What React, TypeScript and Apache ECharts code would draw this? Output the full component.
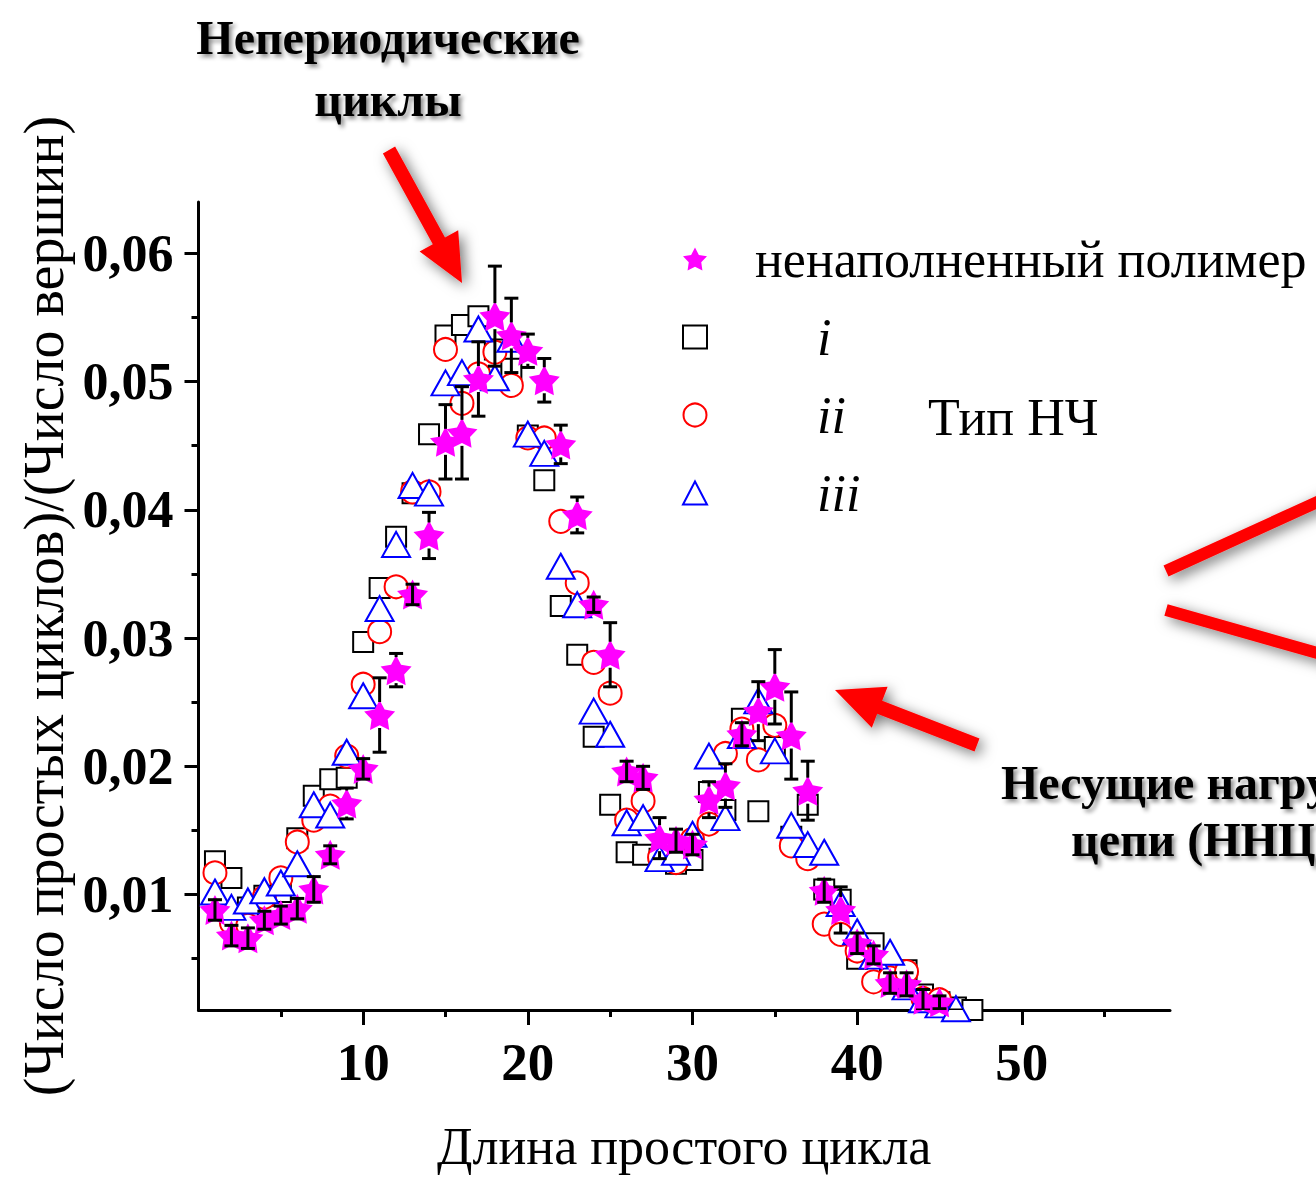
import { useEffect, useRef } from 'react';
import * as echarts from 'echarts';

// ---- data ----
const cycleLength = [
  1, 2, 3, 4, 5, 6, 7, 8, 9, 10, 11, 12, 13, 14, 15, 16, 17, 18, 19, 20,
  21, 22, 23, 24, 25, 26, 27, 28, 29, 30, 31, 32, 33, 34, 35, 36, 37, 38, 39, 40,
  41, 42, 43, 44, 45, 46, 47, 48, 49, 50, 51, 52, 53, 54, 55,
];

// ненаполненный полимер (stars) with error half-widths
const unfilledPolymer = [
  0.0088, 0.0068, 0.0066, 0.0080, 0.0084, 0.0089, 0.0104, 0.0131, 0.0171, 0.0198,
  0.0240, 0.0275, 0.0334, 0.0380, 0.0453, 0.0460, 0.0502, 0.0551, 0.0536, 0.0524,
  0.0501, 0.0451, 0.0396, 0.0326, 0.0287, 0.0196, 0.0191, 0.0144, 0.0142, 0.0139,
  0.0174, 0.0185, 0.0225, 0.0243, 0.0262, 0.0224, 0.0181, 0.0103, 0.0088, 0.0062,
  0.0053, 0.0031, 0.0030, 0.0018, 0.0016, 0.0007, 0.0004, 0.0002, 0.0002, 0.0002,
  0.0002, 0.0002, 0.0002, 0.0002, 0.0002,
];
const unfilledPolymerErr = [
  0.0008, 0.0008, 0.0008, 0.0007, 0.0007, 0.0008, 0.0010, 0.0007, 0.0012, 0.0008,
  0.0029, 0.0013, 0.0008, 0.0018, 0.0029, 0.0036, 0.0029, 0.0039, 0.0029, 0.0013,
  0.0017, 0.0015, 0.0014, 0.0006, 0.0025, 0.0008, 0.0009, 0.0016, 0.0009, 0.0008,
  0.0014, 0.0017, 0.0009, 0.0023, 0.0029, 0.0034, 0.0023, 0.0009, 0.0018, 0.0008,
  0.0007, 0.0008, 0.0009, 0.0008, 0.0005, 0.0003, 0.0002, 0, 0, 0,
  0, 0, 0, 0, 0,
];

// Тип НЧ i (squares)
const typeI = [
  0.0126, 0.0113, 0.0090, 0.0099, 0.0102, 0.0144, 0.0177, 0.0190, 0.0191, 0.0297,
  0.0339, 0.0379, 0.0413, 0.0459, 0.0536, 0.0544, 0.0551, 0.0525, 0.0510, 0.0458,
  0.0423, 0.0325, 0.0287, 0.0223, 0.0170, 0.0133, 0.0131, 0.0128, 0.0124, 0.0127,
  0.0180, 0.0166, 0.0237, 0.0165, 0.0215, 0.0145, 0.0170, 0.0104, 0.0096, 0.0050,
  0.0062, 0.0035, 0.0041, 0.0022, 0.0016, 0.0012, 0.0010, 0.0003,
];

// Тип НЧ ii (circles)
const typeII = [
  0.0117, 0.0078, 0.0076, 0.0098, 0.0113, 0.0141, 0.0158, 0.0169, 0.0208, 0.0264,
  0.0305, 0.0340, 0.0414, 0.0414, 0.0525, 0.0483, 0.0506, 0.0523, 0.0497, 0.0456,
  0.0456, 0.0391, 0.0343, 0.0281, 0.0257, 0.0158, 0.0173, 0.0129, 0.0125, 0.0143,
  0.0155, 0.0210, 0.0229, 0.0205, 0.0232, 0.0138, 0.0128, 0.0077, 0.0069, 0.0056,
  0.0032, 0.0035, 0.0040, 0.0019, 0.0018, 0.0009, 0.0005,
];

// Тип НЧ iii (triangles)
const typeIII = [
  0.0102, 0.0090, 0.0095, 0.0103, 0.0109, 0.0124, 0.0170, 0.0162, 0.0211, 0.0255,
  0.0323, 0.0373, 0.0419, 0.0413, 0.0499, 0.0507, 0.0541, 0.0503, 0.0533, 0.0459,
  0.0444, 0.0356, 0.0326, 0.0243, 0.0225, 0.0156, 0.0160, 0.0128, 0.0133, 0.0147,
  0.0208, 0.0160, 0.0224, 0.0251, 0.0212, 0.0154, 0.0139, 0.0133, 0.0093, 0.0071,
  0.0052, 0.0055, 0.0028, 0.0018, 0.0014, 0.0011, 0.0009,
];

const xMajorTicks = [10, 20, 30, 40, 50];
const xMinorTicks = [5, 15, 25, 35, 45, 55];
const yMajorTicks = [0.01, 0.02, 0.03, 0.04, 0.05, 0.06];
const yMinorTicks = [0.005, 0.015, 0.025, 0.035, 0.045, 0.055];

const NAME_STAR = 'ненаполненный полимер';
const NAME_I = 'i';
const NAME_II = 'ii';
const NAME_III = 'iii';

const FONT = '"Liberation Serif", "Times New Roman", serif';
const STAR =
  'path://M0,-10L3.06,-4.21L9.51,-3.09L4.95,1.61L5.88,8.09L0,5.2L-5.88,8.09L-4.95,1.61L-9.51,-3.09L-3.06,-4.21Z';

const pairs = (vals: number[]) => vals.map((v, i) => [cycleLength[i], v]);

const shadow = {
  shadowBlur: 14,
  shadowColor: 'rgba(0,0,0,0.55)',
  shadowOffsetX: 4,
  shadowOffsetY: 4,
};
const textShadow = {
  textShadowBlur: 4,
  textShadowColor: 'rgba(0,0,0,0.45)',
  textShadowOffsetX: 3,
  textShadowOffsetY: 3,
};

export default function App() {
  const ref = useRef<HTMLDivElement>(null);

  useEffect(() => {
    document.body.style.margin = '0';
    const chart = echarts.init(ref.current as HTMLDivElement, null, { renderer: 'svg' });

    const renderErr = (_params: any, api: any) => {
      const x = api.value(0);
      const y = api.value(1);
      const e = api.value(2);
      if (!(e > 0)) return null;
      const c = api.coord([x, y]);
      const t = api.coord([x, y + e]);
      const b = api.coord([x, y - e]);
      const hw = 7;
      const gap = 13;
      const style = { stroke: '#000', lineWidth: 3 };
      const children: any[] = [
        { type: 'line', shape: { x1: t[0] - hw, y1: t[1], x2: t[0] + hw, y2: t[1] }, style },
        { type: 'line', shape: { x1: b[0] - hw, y1: b[1], x2: b[0] + hw, y2: b[1] }, style },
      ];
      if (c[1] - t[1] > gap + 2) {
        children.push({ type: 'line', shape: { x1: t[0], y1: t[1], x2: c[0], y2: c[1] - gap }, style });
        children.push({ type: 'line', shape: { x1: b[0], y1: b[1], x2: c[0], y2: c[1] + gap }, style });
      } else {
        children.push({ type: 'line', shape: { x1: t[0], y1: t[1], x2: b[0], y2: b[1] }, style });
      }
      return { type: 'group', children };
    };

    const option: any = {
      animation: false,
      backgroundColor: '#fff',
      grid: { left: 198.5, top: 202, width: 971.5, height: 811, containLabel: false },
      xAxis: [
        {
          type: 'value',
          min: 0,
          max: 59,
          position: 'bottom',
          axisLine: { show: true, onZero: false, lineStyle: { color: '#000', width: 3 } },
          axisTick: { show: true, inside: false, length: 15, customValues: xMajorTicks, lineStyle: { color: '#000', width: 3 } },
          axisLabel: {
            customValues: xMajorTicks,
            formatter: (v: number) => String(Math.round(v)),
            fontFamily: FONT,
            fontSize: 53,
            fontWeight: 'bold',
            color: '#000',
            margin: 25,
          },
          splitLine: { show: false },
          name: 'Длина простого цикла',
          nameLocation: 'middle',
          nameGap: 110,
          nameTextStyle: { fontFamily: FONT, fontSize: 52, color: '#000' },
        },
        {
          type: 'value',
          min: 0,
          max: 59,
          position: 'bottom',
          axisLine: { show: false },
          axisTick: { show: true, inside: false, length: 7, customValues: xMinorTicks, lineStyle: { color: '#000', width: 3 } },
          axisLabel: { show: false },
          splitLine: { show: false },
        },
      ],
      yAxis: [
        {
          type: 'value',
          min: 0.001,
          max: 0.064,
          position: 'left',
          axisLine: { show: true, onZero: false, lineStyle: { color: '#000', width: 3 } },
          axisTick: { show: true, inside: false, length: 14, customValues: yMajorTicks, lineStyle: { color: '#000', width: 3 } },
          axisLabel: {
            customValues: yMajorTicks,
            formatter: (v: number) => v.toFixed(2).replace('.', ','),
            fontFamily: FONT,
            fontSize: 52,
            fontWeight: 'bold',
            color: '#000',
            margin: 25,
          },
          splitLine: { show: false },
          name: '(Число простых циклов)/(Число вершин)',
          nameLocation: 'middle',
          nameGap: 127,
          nameTextStyle: { fontFamily: FONT, fontSize: 56, color: '#000' },
        },
        {
          type: 'value',
          min: 0.001,
          max: 0.064,
          position: 'left',
          axisLine: { show: false },
          axisTick: { show: true, inside: false, length: 7, customValues: yMinorTicks, lineStyle: { color: '#000', width: 3 } },
          axisLabel: { show: false },
          splitLine: { show: false },
        },
      ],
      legend: {
        data: [NAME_STAR, NAME_I, NAME_II, NAME_III],
        orient: 'vertical',
        left: 682,
        top: 233,
        padding: 0,
        itemWidth: 24,
        itemHeight: 23,
        itemGap: 26,
        selectedMode: false,
        formatter: (name: string) => (name === NAME_STAR ? `{p|${name}}` : `{q|${name}}`),
        textStyle: {
          fontFamily: FONT,
          fontSize: 52,
          color: '#000',
          rich: {
            p: { fontFamily: FONT, fontSize: 52, color: '#000', lineHeight: 58, padding: [0, 0, 0, 43] },
            q: { fontFamily: FONT, fontSize: 52, fontStyle: 'italic', color: '#000', lineHeight: 58, padding: [0, 0, 0, 105] },
          },
        },
      },
      series: [
        {
          name: NAME_I,
          type: 'scatter',
          data: pairs(typeI),
          symbol: 'rect',
          symbolSize: 20,
          clip: true,
          z: 2,
          itemStyle: { color: '#fff', borderColor: '#000', borderWidth: 2, opacity: 1 },
        },
        {
          name: NAME_II,
          type: 'scatter',
          data: pairs(typeII),
          symbol: 'circle',
          symbolSize: 23,
          clip: true,
          z: 3,
          itemStyle: { color: '#fff', borderColor: '#ff0000', borderWidth: 2, opacity: 1 },
        },
        {
          name: NAME_III,
          type: 'scatter',
          data: pairs(typeIII),
          symbol: 'triangle',
          symbolSize: [28, 25],
          clip: true,
          z: 4,
          itemStyle: { color: '#fff', borderColor: '#0000ff', borderWidth: 2, opacity: 1 },
        },
        {
          name: NAME_STAR,
          type: 'scatter',
          data: pairs(unfilledPolymer),
          symbol: STAR,
          symbolSize: [31, 30],
          clip: true,
          z: 5,
          itemStyle: { color: '#ff00ff', opacity: 1 },
        },
        {
          name: 'errors',
          type: 'custom',
          data: unfilledPolymer.map((v, i) => [cycleLength[i], v, unfilledPolymerErr[i]]),
          encode: { x: 0, y: 1 },
          renderItem: renderErr,
          clip: true,
          z: 6,
          silent: true,
        },
      ],
      graphic: [
        {
          type: 'text',
          z: 100,
          style: {
            text: 'Непериодические',
            x: 388,
            y: 37,
            align: 'center',
            verticalAlign: 'middle',
            font: `bold 48px ${FONT}`,
            fill: '#000',
            ...textShadow,
          },
        },
        {
          type: 'text',
          z: 100,
          style: {
            text: 'циклы',
            x: 388,
            y: 99,
            align: 'center',
            verticalAlign: 'middle',
            font: `bold 48px ${FONT}`,
            fill: '#000',
            ...textShadow,
          },
        },
        {
          type: 'text',
          z: 100,
          style: {
            text: 'Несущие нагрузку',
            x: 1001,
            y: 782,
            align: 'left',
            verticalAlign: 'middle',
            font: `bold 48px ${FONT}`,
            fill: '#000',
            ...textShadow,
          },
        },
        {
          type: 'text',
          z: 100,
          style: {
            text: 'цепи (ННЦ)',
            x: 1071,
            y: 839,
            align: 'left',
            verticalAlign: 'middle',
            font: `bold 48px ${FONT}`,
            fill: '#000',
            ...textShadow,
          },
        },
        {
          type: 'text',
          z: 100,
          style: {
            text: 'Тип НЧ',
            x: 928,
            y: 417,
            align: 'left',
            verticalAlign: 'middle',
            font: `52px ${FONT}`,
            fill: '#000',
          },
        },
        {
          type: 'polygon',
          z: 90,
          shape: {
            points: [
              [395.1, 146.6], [445.0, 237.5], [458.2, 230.3], [462, 283],
              [419.6, 251.5], [432.8, 244.3], [382.9, 153.4],
            ],
          },
          style: { fill: '#ff0000', ...shadow },
        },
        {
          type: 'polygon',
          z: 90,
          shape: {
            points: [
              [979.5, 738.5], [882.2, 700.8], [887.6, 686.8], [835, 690],
              [871.8, 727.8], [877.2, 713.8], [974.5, 751.5],
            ],
          },
          style: { fill: '#ff0000', ...shadow },
        },
        {
          type: 'line',
          z: 90,
          shape: { x1: 1166, y1: 571, x2: 1335, y2: 494 },
          style: { stroke: '#ff0000', lineWidth: 12, ...shadow },
        },
        {
          type: 'line',
          z: 90,
          shape: { x1: 1166, y1: 610, x2: 1335, y2: 658 },
          style: { stroke: '#ff0000', lineWidth: 12, ...shadow },
        },
      ],
    };

    chart.setOption(option);
    return () => chart.dispose();
  }, []);

  return <div ref={ref} style={{ width: 1316, height: 1177, overflow: 'hidden' }} />;
}
